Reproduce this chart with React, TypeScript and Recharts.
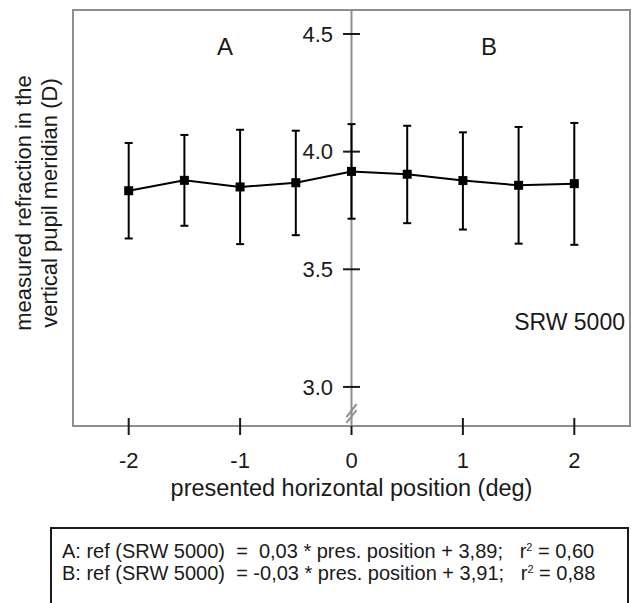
import React from 'react';
import { ComposedChart, Line, XAxis, YAxis, ErrorBar, ReferenceLine, ReferenceArea } from 'recharts';

const positions = [-2, -1.5, -1, -0.5, 0, 0.5, 1, 1.5, 2];
const meanRefraction = [3.834, 3.878, 3.85, 3.868, 3.916, 3.904, 3.877, 3.857, 3.864];
const upperBound = [4.037, 4.071, 4.093, 4.089, 4.117, 4.11, 4.082, 4.105, 4.122];
const lowerBound = [3.631, 3.685, 3.607, 3.645, 3.715, 3.696, 3.669, 3.609, 3.604];

const xTicks = [-2, -1, 0, 1, 2];
const xTickLabels = ['-2', '-1', '0', '1', '2'];
const yTicks = [3.0, 3.5, 4.0, 4.5];
const yTickLabels = ['3.0', '3.5', '4.0', '4.5'];
const xDomain: [number, number] = [-2.5, 2.5];
const yDomain: [number, number] = [2.834, 4.602];

const xTitle = 'presented horizontal position (deg)';
const yTitleLines = ['measured refraction in the', 'vertical pupil meridian (D)'];
const panelLabels = ['A', 'B'];
const deviceLabel = 'SRW 5000';
const equationLines = [
  { left: 'A: ref (SRW 5000)  =  0,03 * pres. position + 3,89;   r', right: ' = 0,60' },
  { left: 'B: ref (SRW 5000)  = -0,03 * pres. position + 3,91;   r', right: ' = 0,88' },
];

const rows = positions.map((x, i) => ({
  x,
  mean: meanRefraction[i],
  err: [meanRefraction[i] - lowerBound[i], upperBound[i] - meanRefraction[i]],
}));

const FONT = '"Liberation Sans", Arial, sans-serif';
const GRAY = '#8e8e8e';
const INK = '#1a1a1a';

const SquareDot = (p: any) => (
  <rect key={`d${p.index}`} x={p.cx - 4.5} y={p.cy - 4.5} width={9} height={9} fill="#000" />
);

const XTick = (p: any) => {
  const v = p.payload.value;
  const idx = xTicks.indexOf(v);
  return (
    <g>
      <line x1={p.x} x2={p.x} y1={v === 0 ? p.y : p.y - 8} y2={p.y + 9} stroke={INK} strokeWidth={2} />
      <text x={p.x} y={p.y + 42} textAnchor="middle" fontSize={22} fontFamily={FONT} fill={INK}>
        {xTickLabels[idx]}
      </text>
    </g>
  );
};

export default function App() {
  return (
    <div style={{ position: 'absolute', left: 0, top: 0, width: 631, height: 603, overflow: 'hidden', background: '#fff' }}>
      <ComposedChart
        width={631}
        height={520}
        data={rows}
        margin={{ top: 10, right: 1, left: 73, bottom: 14 }}
        style={{ fontFamily: FONT }}
      >
        <XAxis
          dataKey="x"
          type="number"
          domain={xDomain}
          ticks={xTicks}
          allowDataOverflow
          height={80}
          tickSize={0}
          tickMargin={0}
          tickLine={false}
          axisLine={{ stroke: GRAY, strokeWidth: 2 }}
          tick={<XTick />}
          label={{ value: xTitle, position: 'insideBottom', offset: 10, fontSize: 23.5, fill: INK, fontFamily: FONT }}
        />
        <YAxis type="number" domain={yDomain} allowDataOverflow hide />
        <ReferenceArea
          x1={xDomain[0]}
          x2={xDomain[1]}
          y1={yDomain[0]}
          y2={yDomain[1]}
          fill="none"
          stroke={GRAY}
          strokeWidth={2}
          ifOverflow="visible"
        />
        <ReferenceLine x={0} stroke={GRAY} strokeWidth={2} />
        <ReferenceLine segment={[{ x: -0.045, y: 2.847 }, { x: 0.045, y: 2.902 }]} stroke={GRAY} strokeWidth={2} />
        <ReferenceLine segment={[{ x: -0.045, y: 2.872 }, { x: 0.045, y: 2.927 }]} stroke={GRAY} strokeWidth={2} />
        {yTicks.map((v, i) => (
          <ReferenceLine
            key={`yt${i}`}
            segment={[{ x: -0.076, y: v }, { x: 0.076, y: v }]}
            stroke={INK}
            strokeWidth={2}
            label={{ value: yTickLabels[i], position: 'left', offset: 10, fontSize: 22, fill: INK, fontFamily: FONT }}
          />
        ))}
        <Line
          dataKey="mean"
          type="linear"
          stroke="#000"
          strokeWidth={2}
          dot={SquareDot}
          activeDot={false}
          isAnimationActive={false}
        >
          <ErrorBar dataKey="err" width={4} stroke="#000" strokeWidth={2} direction="y" isAnimationActive={false} />
        </Line>
        <text x={225} y={55} textAnchor="middle" fontSize={24} fontFamily={FONT} fill={INK}>{panelLabels[0]}</text>
        <text x={489} y={55} textAnchor="middle" fontSize={24} fontFamily={FONT} fill={INK}>{panelLabels[1]}</text>
        <text x={625} y={330} textAnchor="end" fontSize={23} fontFamily={FONT} fill={INK}>{deviceLabel}</text>
        <text transform="translate(31,203) rotate(-90)" textAnchor="middle" fontSize={22} fontFamily={FONT} fill={INK}>{yTitleLines[0]}</text>
        <text transform="translate(57,203) rotate(-90)" textAnchor="middle" fontSize={22} fontFamily={FONT} fill={INK}>{yTitleLines[1]}</text>
      </ComposedChart>
      <div
        style={{
          position: 'absolute',
          left: 50,
          top: 527,
          width: 579,
          height: 90,
          border: `2px solid ${INK}`,
          boxSizing: 'border-box',
          padding: '11px 0 0 10px',
          fontFamily: FONT,
          fontSize: 20,
          lineHeight: '22px',
          color: INK,
          whiteSpace: 'pre',
        }}
      >
        {equationLines.map((l, i) => (
          <div key={i}>
            {l.left}
            <sup style={{ fontSize: 11, verticalAlign: 'top', lineHeight: '14px' }}>2</sup>
            {l.right}
          </div>
        ))}
      </div>
    </div>
  );
}
